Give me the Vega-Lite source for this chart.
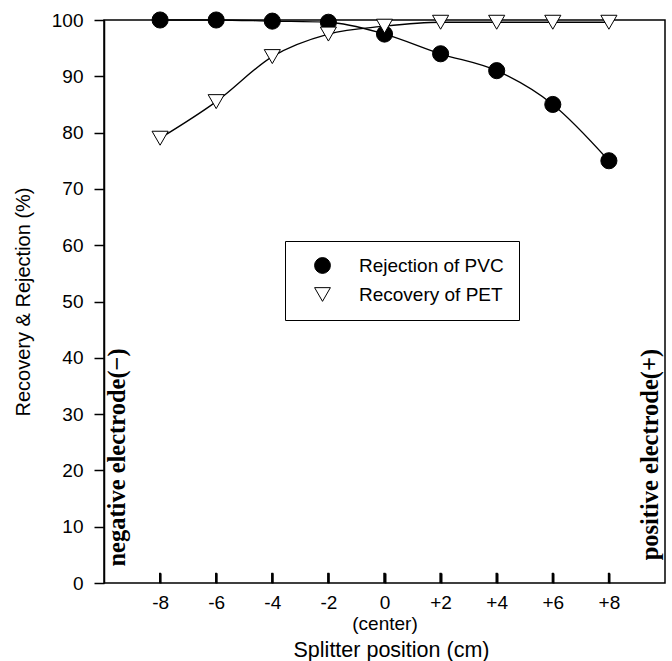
{
  "$schema": "https://vega.github.io/schema/vega-lite/v6.json",
  "width": 561,
  "height": 563,
  "autosize": {"type": "none"},
  "padding": {"left": 104, "top": 20, "right": 7, "bottom": 78},
  "background": "white",
  "config": {"view": {"stroke": "black", "strokeWidth": 1.5}, "font": "Liberation Sans"},
  "datasets": {
    "pts": [
      {"position": -8, "value": 100, "series": "Rejection of PVC"},
      {"position": -6, "value": 100, "series": "Rejection of PVC"},
      {"position": -4, "value": 99.8, "series": "Rejection of PVC"},
      {"position": -2, "value": 99.6, "series": "Rejection of PVC"},
      {"position": 0, "value": 97.5, "series": "Rejection of PVC"},
      {"position": 2, "value": 94, "series": "Rejection of PVC"},
      {"position": 4, "value": 91, "series": "Rejection of PVC"},
      {"position": 6, "value": 85, "series": "Rejection of PVC"},
      {"position": 8, "value": 75, "series": "Rejection of PVC"},
      {"position": -8, "value": 79, "series": "Recovery of PET"},
      {"position": -6, "value": 85.5, "series": "Recovery of PET"},
      {"position": -4, "value": 93.5, "series": "Recovery of PET"},
      {"position": -2, "value": 97.5, "series": "Recovery of PET"},
      {"position": 0, "value": 98.9, "series": "Recovery of PET"},
      {"position": 2, "value": 99.6, "series": "Recovery of PET"},
      {"position": 4, "value": 99.6, "series": "Recovery of PET"},
      {"position": 6, "value": 99.6, "series": "Recovery of PET"},
      {"position": 8, "value": 99.6, "series": "Recovery of PET"}
    ],
    "notes": [
      {"position": -9.5, "value": 22.3, "label": "negative electrode(−)"},
      {"position": 9.5, "value": 22.8, "label": "positive electrode(+)"}
    ]
  },
  "encoding": {
    "x": {
      "field": "position", "type": "quantitative",
      "scale": {"domain": [-10, 10], "nice": false, "zero": false},
      "axis": {
        "values": [-8, -6, -4, -2, 0, 2, 4, 6, 8],
        "title": "Splitter position (cm)",
        "labelExpr": "datum.value === 0 ? ['0', '(center)'] : (datum.value > 0 ? '+' + datum.value : '-' + abs(datum.value))",
        "grid": false,
        "offset": -10,
        "domain": false,
        "tickSize": 10, "tickColor": "black", "tickWidth": 2,
        "labelFont": "Liberation Sans", "labelFontSize": 19, "labelColor": "black",
        "labelPadding": 10, "labelLineHeight": 21, "labelFlush": false, "labelOverlap": false,
        "titleFont": "Liberation Sans", "titleFontSize": 21.5, "titleFontWeight": "normal", "titleColor": "black",
        "titleY": 83, "titleX": 287, "titleBaseline": "alphabetic"
      }
    },
    "y": {
      "field": "value", "type": "quantitative",
      "scale": {"domain": [0, 100], "nice": false},
      "axis": {
        "values": [0, 10, 20, 30, 40, 50, 60, 70, 80, 90, 100],
        "title": "Recovery & Rejection (%)",
        "grid": false,
        "tickSize": 10, "tickColor": "black", "tickWidth": 1.5,
        "domainColor": "black", "domainWidth": 1.5,
        "labelFont": "Liberation Sans", "labelFontSize": 19, "labelColor": "black",
        "labelPadding": 11,
        "titleFont": "Liberation Sans", "titleFontSize": 20, "titleFontWeight": "normal", "titleColor": "black",
        "titlePadding": 18
      }
    }
  },
  "layer": [
    {
      "data": {"name": "pts"},
      "mark": {"type": "rule", "color": "black", "strokeWidth": 2},
      "encoding": {"y": {"datum": 0}, "y2": {"datum": 1.8}}
    },
    {
      "data": {"name": "pts"},
      "mark": {"type": "line", "interpolate": "monotone", "color": "black", "strokeWidth": 1.3},
      "encoding": {"detail": {"field": "series"}}
    },
    {
      "data": {"name": "pts"},
      "mark": {"type": "point", "filled": true, "stroke": "black", "strokeWidth": 1, "size": 260, "opacity": 1},
      "encoding": {
        "shape": {
          "field": "series", "type": "nominal",
          "scale": {"domain": ["Rejection of PVC", "Recovery of PET"], "range": ["circle", "triangle-down"]},
          "legend": {"title": null, "orient": "none", "legendX": 181, "legendY": 221, "strokeColor": "black", "fillColor": "white", "padding": 15, "symbolOffset": 13, "labelOffset": 27, "labelFontSize": 19, "labelFont": "Liberation Sans", "labelColor": "black", "rowPadding": 9, "symbolSize": 250, "symbolStrokeWidth": 1}
        },
        "fill": {
          "field": "series", "type": "nominal",
          "scale": {"domain": ["Rejection of PVC", "Recovery of PET"], "range": ["black", "white"]},
          "legend": {"title": null, "orient": "none", "legendX": 181, "legendY": 221, "strokeColor": "black", "fillColor": "white", "padding": 15, "symbolOffset": 13, "labelOffset": 27, "labelFontSize": 19, "labelFont": "Liberation Sans", "labelColor": "black", "rowPadding": 9, "symbolSize": 250, "symbolStrokeWidth": 1}
        }
      }
    },
    {
      "data": {"name": "notes"},
      "mark": {"type": "text", "angle": 270, "font": "Liberation Serif", "fontWeight": "bold", "fontSize": 24.5, "align": "center", "baseline": "middle", "color": "black"},
      "encoding": {"text": {"field": "label"}}
    }
  ]
}
